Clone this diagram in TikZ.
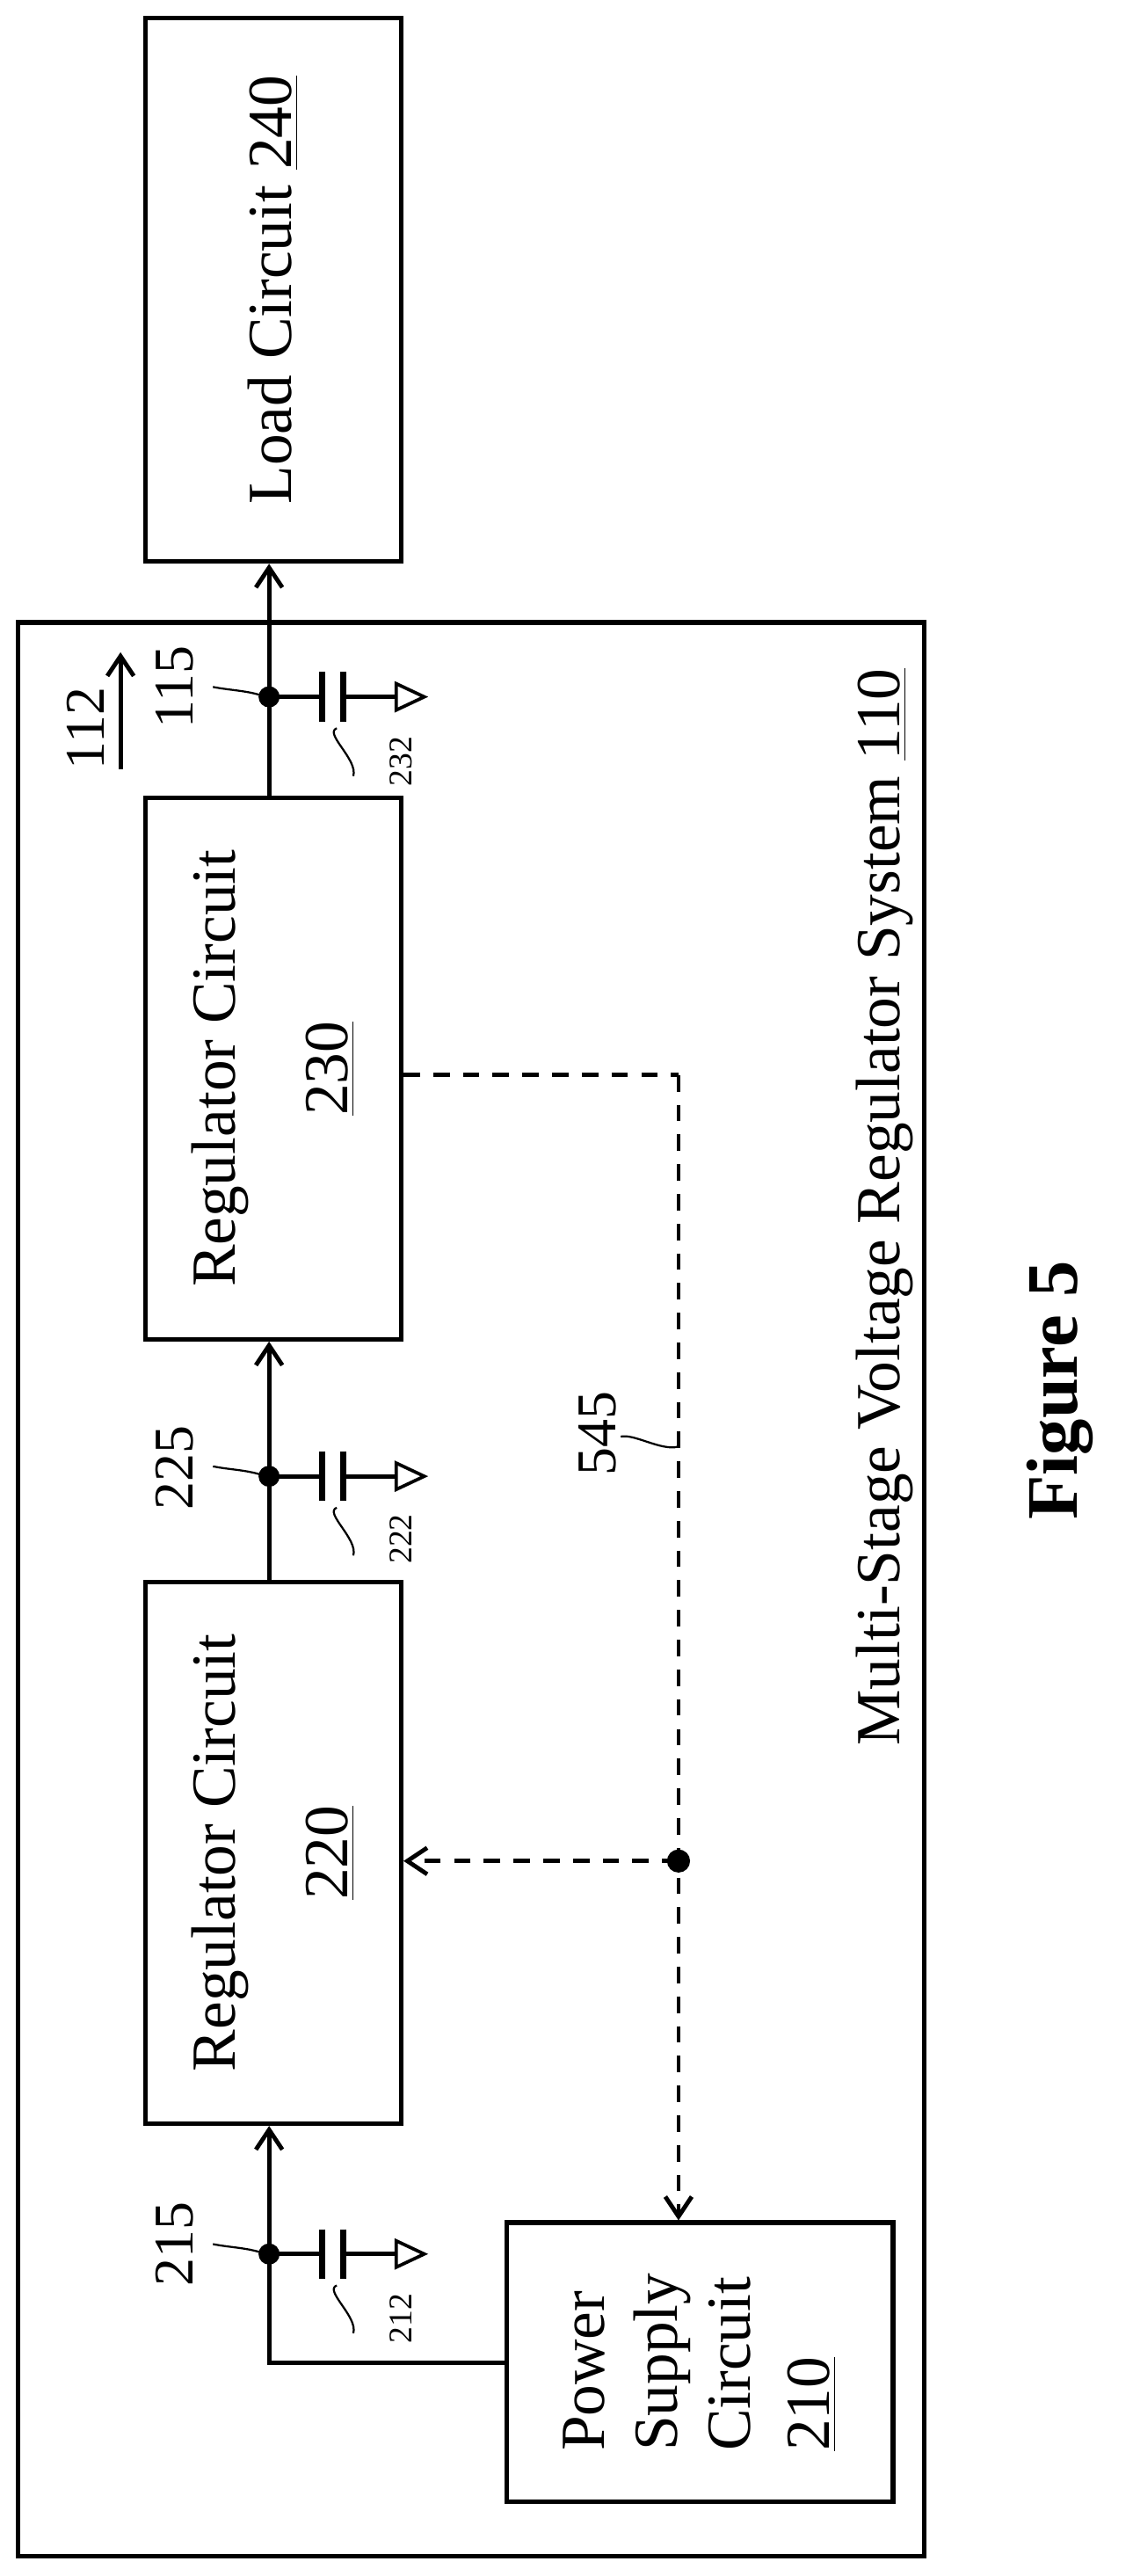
\documentclass[tikz,border=0pt]{standalone}
\usepackage{fontspec}
\setmainfont{Liberation Serif}
\usetikzlibrary{arrows.meta,calc}

\tikzset{
  block/.style={draw, line width=1.4pt, rotate=90, align=center, inner sep=0pt,
    font=\fontsize{19}{22}\selectfont},
  num/.style={rotate=90, font=\fontsize{17}{19}\selectfont},
  small/.style={rotate=90, font=\fontsize{10}{12}\selectfont},
  wire/.style={line width=1.3pt},
  ctrl/.style={line width=1.3pt, dash pattern=on 5pt off 4pt},
  tip/.style={-{Straight Barb[length=6pt,width=8pt]}},
}

% capacitor to ground, hanging right of a dot
\newcommand{\capgnd}[1]{
  \fill (#1) circle (3.2pt);
  \draw[wire] (#1) -- ++(32,0);
  \draw[line width=1.8pt] ($(#1)+(32,-15)$) -- ++(0,30);
  \draw[line width=1.8pt] ($(#1)+(45,-15)$) -- ++(0,30);
  \draw[wire] ($(#1)+(45,0)$) -- ++(32,0);
  \draw[line width=1pt] ($(#1)+(77,-8)$) -- ++(17,8) -- ++(-17,8) -- cycle;
}

\begin{document}
\begin{tikzpicture}[x=0.5pt,y=-0.5pt]
  \useasboundingbox (0,0) rectangle (686,1560);

  \draw[line width=1.4pt] (11,377) rectangle (560,1548);
  \node[num, font=\fontsize{19}{22}\selectfont] (sysname) at (536,731) {Multi-Stage Voltage Regulator System \underline{110}};

  \node[block, minimum width=164.5pt, minimum height=77.5pt] (load) at (165.5,175.5) {Load Circuit \underline{240}};
  \node[block, minimum width=164pt, minimum height=77.5pt] (reg230) at (165.5,647) {Regulator Circuit\\[12pt]\underline{230}};
  \node[block, minimum width=164pt, minimum height=77.5pt] (reg220) at (165.5,1122) {Regulator Circuit\\[12pt]\underline{220}};
  \node[block, minimum width=84.5pt, minimum height=117pt, align=left] (power) at (424,1430.5)
    {Power\\Supply\\Circuit\\[2pt]\underline{210}};

  \coordinate (n215) at (163,1365);
  \coordinate (n225) at (163,894);
  \coordinate (n115) at (163,422);
  \coordinate (pout) at (307,1431);
  \coordinate (bend) at (163,1431);

  \draw[wire, tip] (pout) -- (bend) -- (reg220.west -| n215);
  \draw[wire, tip] (reg220.east -| n225) -- (reg230.west -| n225);
  \draw[wire, tip] (reg230.east -| n115) -- (load.west -| n115);

  \capgnd{n215}
  \capgnd{n225}
  \capgnd{n115}

  \node[num] (l215) at (106,1359) {215};
  \node[num] (l225) at (106,889) {225};
  \node[num] (l115) at (106,416) {115};
  \node[small] (l212) at (243,1404) {212};
  \node[small] (l222) at (243,932) {222};
  \node[small] (l232) at (243,461) {232};
  \foreach \n in {n215,n225,n115}{
    \draw[line width=0.6pt] ($(\n)+(-5,-1)$) .. controls +(-10,-3) and +(10,2) .. ++(-29,-5);
    \draw[line width=0.6pt] ($(\n)+(41,19)$) .. controls +(-8,3) and +(3,-10) .. ++(10,29);
  }

  % current arrow
  \node[num] (l112) at (52,441) {112};
  \coordinate (a112s) at (73,466);
  \coordinate (a112e) at (73,395);
  \draw[wire, tip] (a112s) -- (a112e);

  % control path
  \coordinate (c1) at (411,651);
  \coordinate (cdot) at (411,1127);
  \draw[ctrl] (reg230.south |- c1) -- (c1);
  \draw[ctrl, tip] (c1) -- (power.east -| c1);
  \draw[ctrl, tip] (cdot) -- (reg220.south |- cdot);
  \fill (cdot) circle (3.5pt);
  \node[num] (l545) at (362,868) {545};
  \draw[line width=0.6pt] (376,870) .. controls +(8,-2) and +(-10,3) .. (411,876);

  \node[rotate=90, font=\fontsize{22}{26}\selectfont\bfseries] (fig) at (642,842) {Figure 5};
\end{tikzpicture}
\end{document}
